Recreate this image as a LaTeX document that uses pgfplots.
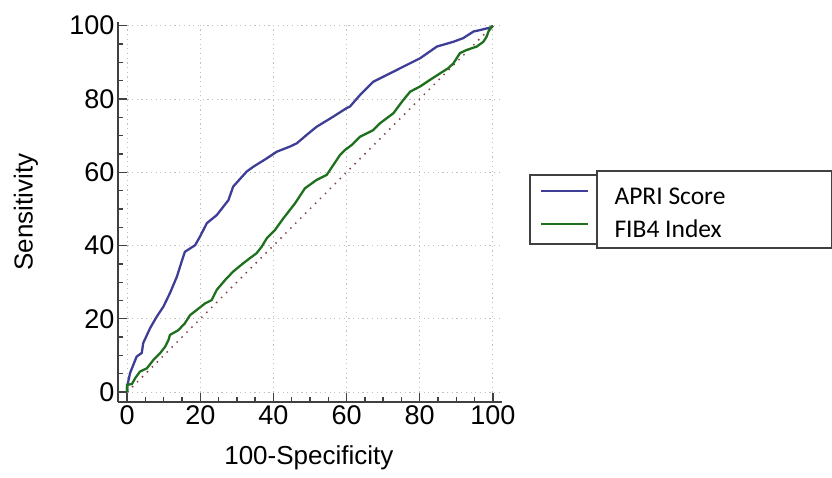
\documentclass[border=0pt]{standalone}
\usepackage{pgfplots}
\pgfplotsset{compat=1.18}
\usepackage{fontspec}
\setmainfont{Liberation Sans}
\newfontfamily\legfont{Carlito}

\definecolor{apri}{RGB}{62,62,150}
\definecolor{fib}{RGB}{30,112,30}
\definecolor{diag}{RGB}{130,70,70}
\definecolor{axgray}{RGB}{64,64,64}

\begin{document}
\begin{tikzpicture}
% legend frames (drawn first so the entries sit on top)
\draw[line width=1.4pt, axgray] (412pt,158pt) rectangle (479pt,227pt);
\draw[line width=1.4pt, axgray, fill=white] (479pt,154pt) rectangle (713.3pt,231pt);

\begin{axis}[
    at={(0,0)}, anchor=south west,
    scale only axis,
    width=384pt, height=380pt,
    xmin=-2.5, xmax=102.5,
    ymin=-2.7, ymax=101,
    axis lines=left,
    axis line style={-, line width=2.5pt, color=axgray},
    xtick={0,20,...,100},
    ytick={0,20,...,100},
    minor tick num=3,
    tick align=inside,
    major tick length=9pt,
    minor tick length=5pt,
    tick style={line width=1.3pt, color=axgray},
    grid=major,
    grid style={dash pattern=on 1.2pt off 3.5pt, line width=0.9pt, gray!50},
    /pgf/number format/assume math mode=true,
    ticklabel style={font=\fontsize{27}{30}\selectfont},
    xlabel={100-Specificity},
    ylabel={Sensitivity},
    label style={font=\fontsize{26}{30}\selectfont},
    xlabel style={at={(axis description cs:0.497,-0.147)}, anchor=center},
    ylabel style={at={(axis description cs:-0.24,0.5)}, anchor=center},
    legend style={draw=none, fill=none,
                  at={(axis description cs:1.099,0.4908)}, anchor=west,
                  inner sep=0pt, column sep=25pt, row sep=11pt,
                  nodes={inner sep=0pt, text height=17pt, text depth=5pt,
                         font=\legfont\fontsize{25.5}{28}\selectfont}},
    legend cell align=left,
    legend image code/.code={\draw[#1] (0pt,8pt) -- (47pt,8pt);},
]

% chance line
\addplot[diag, line width=1.5pt, dash pattern=on 1.5pt off 5.5pt, forget plot]
    coordinates {(0,0) (100,100)};

% APRI Score
\addplot[apri, line width=2.3pt] coordinates {
(0,0)(0,1.5)(0.8,5.2)(2.6,9.7)(4.0,10.7)(4.4,13.4)(6.3,17.5)(8.1,20.6)(9.9,23.3)
(11.7,27.0)(13.6,31.5)(14.9,35.6)(15.8,38.3)(18.6,40.1)(19.9,42.4)(21.8,46.1)
(24.5,48.3)(26.3,50.6)(27.7,52.4)(29.0,56.1)(32.7,60.2)(34.5,61.5)(38.2,63.8)
(40.9,65.6)(44.5,67.0)(46.4,67.9)(49.1,70.2)(51.8,72.4)(56.4,75.2)(60.0,77.5)
(60.9,77.9)(63.7,81.1)(67.3,84.7)(71.9,87.0)(76.5,89.3)(80.1,91.1)(84.7,94.3)
(89.2,95.6)(91.9,96.6)(94.7,98.4)(96.5,98.8)(99.7,99.6)(100,100)
};

% FIB4 Index
\addplot[fib, line width=2.3pt] coordinates {
(0,0)(0,2)(1.3,2.2)(2.2,3.8)(3.5,5.6)(5.4,6.5)(7.2,8.8)(9.0,10.6)(10.4,12.4)
(11.3,14.2)(11.7,15.6)(14.0,16.9)(15.8,18.8)(17.2,21.0)(19.0,22.4)(21.3,24.2)
(23.1,25.1)(24.5,27.9)(26.8,30.6)(29.0,32.9)(31.8,35.2)(33.5,36.5)(35.4,37.9)
(36.8,39.7)(38.2,42.0)(40.4,44.2)(42.7,47.4)(45.9,51.5)(48.6,55.6)(51.8,57.9)
(54.6,59.3)(56.4,62.0)(58.2,64.7)(59.6,66.1)(61.5,67.5)(63.7,69.7)(67.3,71.5)
(69.2,73.4)(72.8,76.1)(75.5,79.7)(77.4,82.0)(80.1,83.4)(82.8,85.2)(85.6,87.0)
(87.8,88.4)(89.2,89.7)(91.0,92.5)(92.9,93.4)(95.6,94.3)(97.4,95.6)(98.3,97.0)
(98.8,98.4)(99.4,99.3)(100,100)
};

\legend{APRI Score, FIB4 Index}
\end{axis}

\pgfresetboundingbox
\path[use as bounding box] (-118pt,-75pt) rectangle (714pt,402pt);
\end{tikzpicture}
\end{document}
